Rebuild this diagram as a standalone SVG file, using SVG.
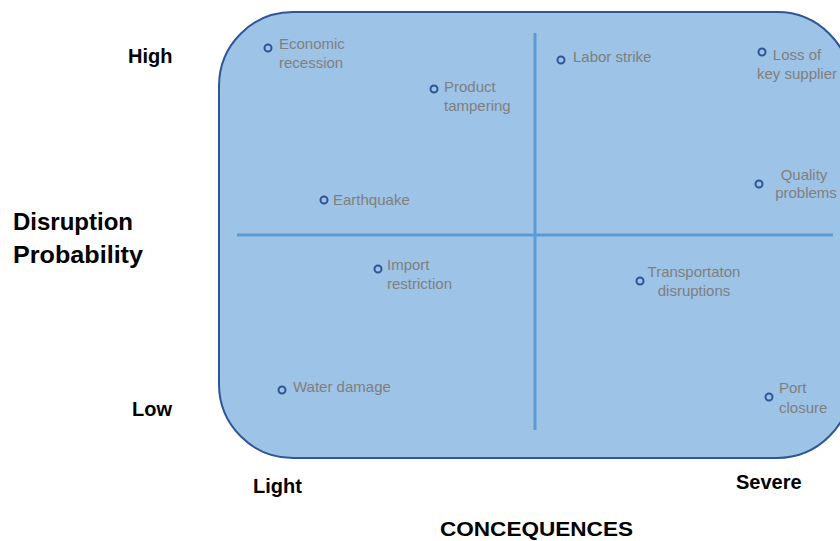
<svg xmlns="http://www.w3.org/2000/svg" width="840" height="541" viewBox="0 0 840 541">
<style>
.axis{font-family:"Liberation Sans",Arial,sans-serif;font-weight:bold;fill:#000}
.lbl{font-family:"Liberation Sans",Arial,sans-serif;font-size:15px;fill:#7F7F7F}
.dot{fill:none;stroke:#2F5597;stroke-width:2}
.div{stroke:#5B9BD5;stroke-width:3}
</style>
<rect id="matrix" x="219" y="12" width="632" height="446" rx="74" ry="74" fill="#9DC3E6" stroke="#2F5597" stroke-width="2"/>
<g id="dividers">
<line class="div" x1="535" y1="33" x2="535" y2="430"/>
<line class="div" x1="237" y1="235" x2="833" y2="235"/>
</g>
<g id="axis-labels">
<text class="axis" x="128" y="63" font-size="20">High</text>
<text class="axis" x="132" y="416" font-size="20">Low</text>
<text class="axis" x="13" y="230" font-size="24">Disruption</text>
<text class="axis" x="13" y="263" font-size="24" textLength="130" lengthAdjust="spacingAndGlyphs">Probability</text>
<text class="axis" x="253" y="493" font-size="20">Light</text>
<text class="axis" x="736" y="489" font-size="20">Severe</text>
<text class="axis" x="440" y="536" font-size="21" textLength="193" lengthAdjust="spacingAndGlyphs">CONCEQUENCES</text>
</g>
<g id="economic-recession">
<circle class="dot" cx="268" cy="48" r="3.5"/>
<text class="lbl" x="279" y="49">Economic</text>
<text class="lbl" x="279" y="68">recession</text>
</g>
<g id="product-tampering">
<circle class="dot" cx="434" cy="89" r="3.5"/>
<text class="lbl" x="444" y="92">Product</text>
<text class="lbl" x="444" y="111">tampering</text>
</g>
<g id="earthquake">
<circle class="dot" cx="324" cy="200" r="3.5"/>
<text class="lbl" x="333" y="205">Earthquake</text>
</g>
<g id="labor-strike">
<circle class="dot" cx="561" cy="60" r="3.5"/>
<text class="lbl" x="573" y="62">Labor strike</text>
</g>
<g id="loss-of-key-supplier">
<circle class="dot" cx="762" cy="52" r="3.5"/>
<text class="lbl" x="797" y="60" text-anchor="middle">Loss of</text>
<text class="lbl" x="797" y="79" text-anchor="middle">key supplier</text>
</g>
<g id="quality-problems">
<circle class="dot" cx="759" cy="184" r="3.5"/>
<text class="lbl" x="804" y="180" text-anchor="middle">Quality</text>
<text class="lbl" x="806" y="198" text-anchor="middle">problems</text>
</g>
<g id="import-restriction">
<circle class="dot" cx="378" cy="269" r="3.5"/>
<text class="lbl" x="387" y="270">Import</text>
<text class="lbl" x="387" y="289">restriction</text>
</g>
<g id="water-damage">
<circle class="dot" cx="282" cy="390" r="3.5"/>
<text class="lbl" x="293" y="392">Water damage</text>
</g>
<g id="transportation-disruptions">
<circle class="dot" cx="640" cy="281" r="3.5"/>
<text class="lbl" x="694" y="277" text-anchor="middle">Transportaton</text>
<text class="lbl" x="694" y="296" text-anchor="middle">disruptions</text>
</g>
<g id="port-closure">
<circle class="dot" cx="769" cy="397" r="3.5"/>
<text class="lbl" x="779" y="393">Port</text>
<text class="lbl" x="779" y="413">closure</text>
</g>
</svg>
